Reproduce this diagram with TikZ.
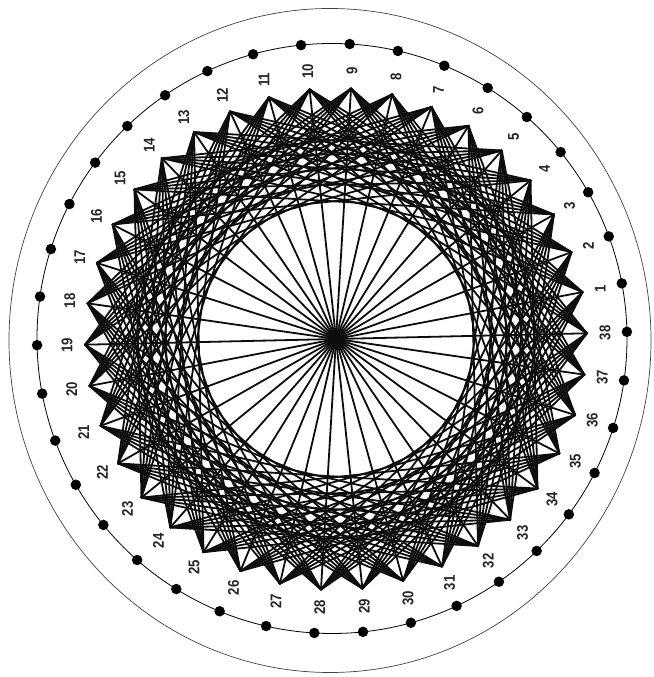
\documentclass[tikz,border=0pt]{standalone}
\usepackage{graphicx}
\usepackage{fontspec}
\setmainfont{Liberation Sans}
\begin{document}
\begin{tikzpicture}[x=1pt,y=1pt,
  stringline/.style={line width=1.8pt, draw=black!95, line cap=round},
  lab/.style={font=\fontsize{15.5}{15.5}\selectfont\bfseries, rotate=90, inner sep=0pt, text=black!85},
  pin/.style={circle, fill=black, minimum size=10.5pt, inner sep=0pt},
  ]
\useasboundingbox (0,0) rectangle (653,677);
\draw[line width=0.7pt, black!75] (330,336.5) ellipse [x radius=321, y radius=332];
\draw[line width=0.8pt] (332,338.5) circle [radius=295];
\foreach \k in {1,...,38} {
  \pgfmathsetmacro\ang{1.3+9.47368*\k}
  \coordinate (p\k) at ({336+251*cos(\ang)},{338+251*sin(\ang)});
  \node[pin] (dot\k) at ({332+295*cos(\ang)},{338.5+295*sin(\ang)}) {};
  \node[lab] (l\k) at ({336+269*cos(\ang)},{338+269*sin(\ang)}) {\scalebox{0.85}[1]{\k}};
}
\foreach \i in {1,...,38} {
  \foreach \s in {8,...,12} {
    \pgfmathtruncatemacro\j{mod(\i+\s-1,38)+1}
    \draw[stringline] (p\i) -- (p\j);
  }
}
\foreach \i in {1,...,19} {
  \pgfmathtruncatemacro\j{\i+19}
  \draw[stringline] (p\i) -- (p\j);
}
\end{tikzpicture}
\end{document}
